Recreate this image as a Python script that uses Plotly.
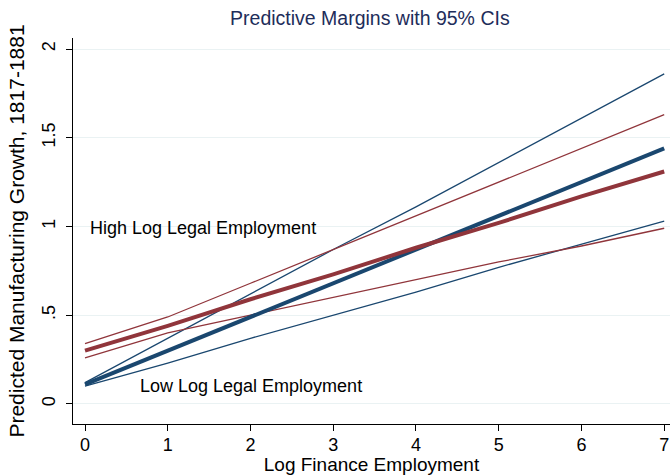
import plotly.graph_objects as go

# margins at each level of log finance employment
fin_emp = [0, 1, 2, 3, 4, 5, 6, 7]

low_mean = [0.11, 0.30, 0.49, 0.68, 0.87, 1.06, 1.25, 1.44]
low_upper = [0.12, 0.37, 0.62, 0.87, 1.11, 1.36, 1.61, 1.86]
low_lower = [0.10, 0.23, 0.37, 0.50, 0.63, 0.77, 0.90, 1.03]

high_mean = [0.30, 0.44, 0.59, 0.73, 0.88, 1.02, 1.17, 1.31]
high_upper = [0.34, 0.49, 0.68, 0.87, 1.06, 1.25, 1.44, 1.63]
high_lower = [0.26, 0.40, 0.50, 0.60, 0.70, 0.80, 0.89, 0.99]

y_ticks = [0, 0.5, 1, 1.5, 2]
y_labels = ["0", ".5", "1", "1.5", "2"]

navy = "#1a476f"
maroon = "#90353b"
font = "Liberation Sans, Arial, sans-serif"

fig = go.Figure()
for ys, col, w in [(low_upper, navy, 1.3), (low_lower, navy, 1.3),
                   (high_upper, maroon, 1.3), (high_lower, maroon, 1.3),
                   (low_mean, navy, 4), (high_mean, maroon, 4)]:
    fig.add_trace(go.Scatter(x=fin_emp, y=ys, mode="lines",
                             line=dict(color=col, width=w), showlegend=False,
                             cliponaxis=False))

fig.add_annotation(x=0.04, y=0.99, text="High Log Legal Employment", showarrow=False,
                   xanchor="left", font=dict(size=18, color="black", family=font))
fig.add_annotation(x=0.64, y=0.10, text="Low Log Legal Employment", showarrow=False,
                   xanchor="left", font=dict(size=18, color="black", family=font))

fig.update_layout(
    width=670, height=475,
    margin=dict(l=73, r=0, t=38, b=51),
    paper_bgcolor="white", plot_bgcolor="white",
    font=dict(family=font, color="black"),
    title=dict(text="Predictive Margins with 95% CIs", x=0.552, xanchor="center",
               y=0.962, yanchor="middle", font=dict(size=19.5, color="#1e2d5a")),
    xaxis=dict(range=[-0.145, 7.07], tickvals=fin_emp, showline=True, linecolor="black",
               linewidth=1, ticks="outside", ticklen=6, tickcolor="black",
               showgrid=False, zeroline=False, tickfont=dict(size=18), automargin=False,
               ticklabelstandoff=-2,
               title=dict(text="Log Finance Employment", font=dict(size=19), standoff=6)),
    yaxis=dict(range=[-0.113, 2.062], tickvals=y_ticks, ticktext=y_labels, tickangle=-90,
               showline=True, linecolor="black", linewidth=1, ticks="outside", ticklen=6,
               tickcolor="black", showgrid=True, gridcolor="#eaf2f3", zeroline=False,
               tickfont=dict(size=18), automargin=False, ticklabelstandoff=4,
               title=dict(text="Predicted Manufacturing Growth, 1817-1881",
                          font=dict(size=21), standoff=8)),
)

# drop the default page margin so the figure sits at the window's corner
fig.write_html("out.html", config={"displayModeBar": False},
               post_script="document.body.style.margin='0';")
